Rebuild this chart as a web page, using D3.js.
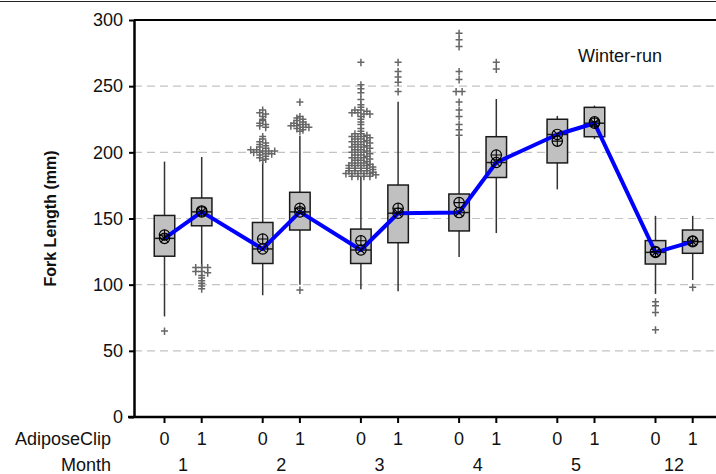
<!DOCTYPE html>
<html>
<head>
<meta charset="utf-8">
<script src="https://cdn.jsdelivr.net/npm/d3@7"></script>
<style>
  body { margin: 0; background: #fff; }
  svg { display: block; }
  text { font-family: "Liberation Sans", Arial, Helvetica, sans-serif; fill: #111; }
</style>
</head>
<body>
<svg id="chart" width="716" height="474"></svg>
<script>
// Fork length by month and adipose-clip status (Winter-run)
const months = ["1", "2", "3", "4", "5", "12"];
const clips = ["0", "1"];
const yTicks = [0, 50, 100, 150, 200, 250, 300];

// One entry per box, month-major then clip 0 / clip 1
const whiskerLow  = [76, 113, 92, 100, 96.5, 95, 121, 139, 172, 210, 93, 103.5];
const q1          = [121.5, 144.5, 116, 141.3, 116, 131.7, 140.6, 181, 192, 211.8, 115.6, 123.7];
const medians     = [135, 155, 127, 155, 126.2, 154, 154.5, 192.3, 213.5, 222, 124.4, 132.5];
const q3          = [152.3, 165.5, 147, 169.8, 142, 175.3, 168.5, 211.8, 225, 234, 133.3, 141.3];
const whiskerHigh = [193, 196.5, 193, 212.5, 181.6, 238.3, 212, 240.3, 227.5, 235.3, 152, 152];
const means       = [137.5, 155.7, 134.5, 157.7, 133.2, 157.7, 162, 198, 208.5, 223, 125, 133];

// Outlying fish lengths per box
const outliers = [
  [65],
  [113, 113, 113, 110, 110, 109, 107, 105, 103, 101, 99, 97],
  [232, 230, 229, 227, 225, 224, 222, 221, 220, 219,
   212, 210, 208, 207, 206, 205, 204, 203, 202, 202, 201, 201, 201, 200, 200, 199, 199, 198, 197, 196, 195, 194],
  [238, 227, 226, 225, 224, 223, 222, 221, 221, 220, 220, 219, 219, 218, 217, 216, 96],
  [268, 251, 248, 245, 240, 236, 234, 232, 232, 231, 230, 230, 229, 229, 227, 225, 223, 221, 218, 216,
   214, 214, 213, 212, 212, 212, 211, 210, 210, 209, 208, 208, 208, 207, 206, 206, 205, 204, 204, 204,
   203, 202, 202, 201, 200, 200, 200, 199, 198, 198, 197, 196, 196, 196, 195, 194, 194, 193, 192, 192,
   192, 191, 190, 190, 190, 190, 189, 188, 188, 188, 188, 187, 186, 186, 186, 186, 185, 184, 184, 184,
   184, 184, 183, 182, 182, 182, 182],
  [268, 261, 257, 253, 246],
  [290, 285, 280, 261, 255, 246, 246, 238, 232, 227, 221, 217, 213],
  [268, 263],
  [],
  [],
  [87, 84, 79, 66],
  [98]
];

const seriesLabel = "Winter-run";
const yTitle = "Fork Length (mm)";

const boxes = months.flatMap((m, i) => clips.map((c, j) => {
  const k = i * clips.length + j;
  return {
    month: m, clip: c,
    lo: whiskerLow[k], q1: q1[k], med: medians[k], q3: q3[k], hi: whiskerHigh[k],
    mean: means[k], out: outliers[k]
  };
}));

const svg = d3.select("#chart");
const W = 716;
const plotLeft = 134, plotTop = 20, plotBottom = 417;
const labelSize = "18px";

const x = d3.scaleBand().domain(months).range([plotLeft, plotLeft + 6 * 98.2]).padding(0);
const xInner = d3.scalePoint().domain(clips).range([0, x.bandwidth()]).padding(0.82);
const y = d3.scaleLinear().domain([0, 300]).range([plotBottom, plotTop]);
const bx = d => x(d.month) + xInner(d.clip);
const boxW = 20.5;

// figure border line
svg.append("line").attr("x1", 0).attr("x2", W).attr("y1", 1.5).attr("y2", 1.5)
  .attr("stroke", "#222").attr("stroke-width", 1.2);

// dashed grid
svg.append("g").selectAll("line").data(yTicks.filter(t => t > 0 && t < 300)).join("line")
  .attr("x1", plotLeft).attr("x2", W)
  .attr("y1", d => y(d)).attr("y2", d => y(d))
  .attr("stroke", "#c4c4c4").attr("stroke-width", 1.1).attr("stroke-dasharray", "8,5");

// whiskers
svg.append("g").selectAll("line").data(boxes).join("line")
  .attr("x1", bx).attr("x2", bx)
  .attr("y1", d => y(d.lo)).attr("y2", d => y(d.hi))
  .attr("stroke", "#333").attr("stroke-width", 1.5);

// outliers, stacked sideways when values coincide
const outPts = [];
boxes.forEach(d => {
  const bins = d3.group(d.out, v => Math.round(v / 2));
  bins.forEach(vals => {
    const n = vals.length;
    vals.forEach((v, i) => outPts.push({ cx: bx(d) + (i - (n - 1) / 2) * 6, v }));
  });
});
svg.append("g").selectAll("path").data(outPts).join("path")
  .attr("transform", d => `translate(${d.cx},${y(d.v)})`)
  .attr("d", "M-3.5,0H3.5M0,-3.5V4")
  .attr("stroke", "#666").attr("stroke-width", 1.5).attr("fill", "none");

// boxes
svg.append("g").selectAll("rect").data(boxes).join("rect")
  .attr("x", d => bx(d) - boxW / 2).attr("width", boxW)
  .attr("y", d => y(d.q3)).attr("height", d => y(d.q1) - y(d.q3))
  .attr("fill", "#c0c0c0").attr("stroke", "#1a1a1a").attr("stroke-width", 1.5);

// median bars inside boxes
svg.append("g").selectAll("line").data(boxes).join("line")
  .attr("x1", d => bx(d) - boxW / 2).attr("x2", d => bx(d) + boxW / 2)
  .attr("y1", d => y(d.med)).attr("y2", d => y(d.med))
  .attr("stroke", "#1a1a1a").attr("stroke-width", 1.5);

// median connecting line
svg.append("path").datum(boxes)
  .attr("d", d3.line().x(bx).y(d => y(d.med)))
  .attr("fill", "none").attr("stroke", "#0000ff").attr("stroke-width", 4)
  .attr("stroke-linejoin", "round");

// mean markers (circle with plus)
const r = 5.2;
const meanG = svg.append("g").selectAll("g").data(boxes).join("g")
  .attr("transform", d => `translate(${bx(d)},${y(d.mean)})`);
meanG.append("circle").attr("r", r).attr("fill", "none").attr("stroke", "#000").attr("stroke-width", 1.2);
meanG.append("path").attr("d", `M${-r},0H${r}M0,${-r}V${r}`).attr("stroke", "#000").attr("stroke-width", 1.1);

// median markers (circle with cross)
const medG = svg.append("g").selectAll("g").data(boxes).join("g")
  .attr("transform", d => `translate(${bx(d)},${y(d.med)})`);
medG.append("circle").attr("r", r).attr("fill", "none").attr("stroke", "#000").attr("stroke-width", 1.2);
const a = r * 0.72;
medG.append("path").attr("d", `M${-a},${-a}L${a},${a}M${-a},${a}L${a},${-a}`)
  .attr("stroke", "#000").attr("stroke-width", 1.1);

// y axis
const yAxis = svg.append("g").attr("transform", `translate(${plotLeft},0)`)
  .call(d3.axisLeft(y).tickValues(yTicks).tickSize(5).tickSizeOuter(0).tickPadding(6));
yAxis.select(".domain").attr("stroke", "#000").attr("stroke-width", 2.5);
yAxis.selectAll(".tick line").attr("stroke", "#000").attr("stroke-width", 2);
yAxis.selectAll(".tick text").style("font-size", labelSize).attr("fill", "#111")
  .style("font-family", "'Liberation Sans', Arial, sans-serif");

// frame top and bottom
svg.append("line").attr("x1", plotLeft).attr("x2", W).attr("y1", plotTop).attr("y2", plotTop)
  .attr("stroke", "#000").attr("stroke-width", 2.2);
svg.append("line").attr("x1", plotLeft - 6).attr("x2", W).attr("y1", plotBottom).attr("y2", plotBottom)
  .attr("stroke", "#000").attr("stroke-width", 2.5);

// x ticks and two-level labels
svg.append("g").selectAll("line").data(boxes).join("line")
  .attr("x1", bx).attr("x2", bx).attr("y1", plotBottom).attr("y2", plotBottom + 6)
  .attr("stroke", "#000").attr("stroke-width", 2);
svg.append("g").selectAll("text").data(boxes).join("text")
  .attr("x", bx).attr("y", 445).attr("text-anchor", "middle")
  .style("font-size", labelSize).text(d => d.clip);
svg.append("g").selectAll("text").data(months).join("text")
  .attr("x", d => x(d) + x.bandwidth() / 2).attr("y", 471).attr("text-anchor", "middle")
  .style("font-size", labelSize).text(d => d);
svg.append("text").attr("x", 111).attr("y", 445).attr("text-anchor", "end")
  .style("font-size", labelSize).text("AdiposeClip");
svg.append("text").attr("x", 111).attr("y", 471).attr("text-anchor", "end")
  .style("font-size", labelSize).text("Month");

// y title
svg.append("text")
  .attr("transform", `translate(56,${(plotTop + plotBottom) / 2}) rotate(-90)`)
  .attr("text-anchor", "middle")
  .style("font-size", "16px").style("font-weight", "bold")
  .text(yTitle);

// series label
svg.append("text").attr("x", 578).attr("y", 62)
  .style("font-size", labelSize).text(seriesLabel);
</script>
</body>
</html>
